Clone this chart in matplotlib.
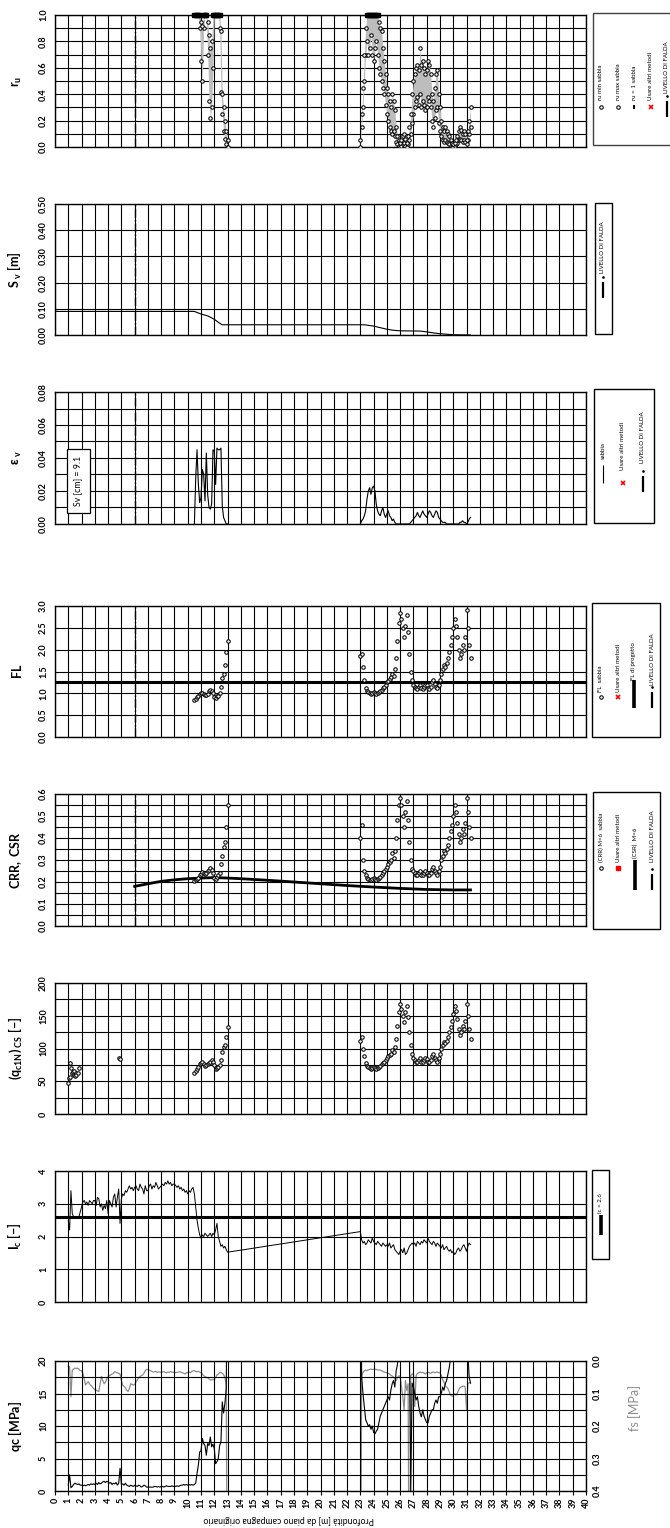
import numpy as np
import matplotlib
matplotlib.use("Agg")
import matplotlib.pyplot as plt
from matplotlib.patches import Rectangle
from matplotlib.ticker import MultipleLocator, FormatStrFormatter

plt.rcParams['font.family'] = ['Lato', 'DejaVu Sans']
plt.rcParams['mathtext.fontset'] = 'custom'
plt.rcParams['mathtext.rm'] = 'Lato'
plt.rcParams['mathtext.bf'] = 'Lato:bold'
plt.rcParams['mathtext.it'] = 'Lato:italic'
plt.rcParams['mathtext.fallback'] = 'stixsans'

# ----------------------------
# data (depth in m, step 0.1 m)
# ----------------------------
START_A = 10.5      # liquefaction analysis, first layer
START_B = 23.0      # second layer
START_CPT = 1.0     # CPT readings
STEP = 0.1

FL_A = [0.85, 0.88, 0.92, 0.95, 0.98, 1.00, 1.00, 0.98, 0.97, 0.96,
        0.98, 1.05, 1.07, 1.05, 1.00, 0.92, 0.90, 0.95, 0.93, 1.00,
        1.15, 1.35, 1.45, 1.65, 1.95, 2.20]
FL_B = [1.85, 1.90, 1.60, 1.30, 1.12, 1.05, 1.02, 1.00, 0.98, 1.00,
        1.02, 1.00, 0.98, 1.00, 1.03, 1.05, 1.08, 1.12, 1.15, 1.20,
        1.25, 1.28, 1.32, 1.38, 1.45, 1.40, 1.55, 1.80, 2.20, 2.60,
        2.85, 2.70, 2.50, 2.30, 2.55, 2.80, 2.40, 1.90, 1.50, 1.30,
        1.20, 1.15, 1.12, 1.10, 1.15, 1.20, 1.12, 1.10, 1.15, 1.20,
        1.18, 1.12, 1.10, 1.15, 1.25, 1.30, 1.22, 1.15, 1.12, 1.20,
        1.30, 1.45, 1.55, 1.65, 1.60, 1.70, 1.80, 1.95, 2.10, 2.30,
        2.50, 2.70, 2.55, 2.30, 2.00, 1.80, 1.90, 2.10, 2.00, 2.30,
        2.90, 2.50, 2.10, 1.80]
FL_DESIGN = 1.25

CRR_A = [0.205, 0.21, 0.215, 0.22, 0.23, 0.235, 0.245, 0.24, 0.235, 0.24,
         0.25, 0.255, 0.265, 0.255, 0.24, 0.22, 0.215, 0.225, 0.23, 0.24,
         0.28, 0.32, 0.36, 0.38, 0.45, 0.55]
CRR_B = [0.40, 0.46, 0.30, 0.25, 0.23, 0.22, 0.215, 0.21, 0.21, 0.215,
         0.22, 0.215, 0.21, 0.215, 0.22, 0.225, 0.23, 0.24, 0.25, 0.26,
         0.27, 0.28, 0.29, 0.30, 0.33, 0.31, 0.34, 0.40, 0.48, 0.55,
         0.58, 0.55, 0.50, 0.45, 0.52, 0.57, 0.48, 0.38, 0.30, 0.26,
         0.25, 0.24, 0.23, 0.23, 0.24, 0.25, 0.23, 0.23, 0.24, 0.25,
         0.24, 0.23, 0.23, 0.24, 0.26, 0.27, 0.25, 0.24, 0.23, 0.25,
         0.27, 0.30, 0.32, 0.34, 0.33, 0.35, 0.37, 0.40, 0.43, 0.46,
         0.50, 0.55, 0.52, 0.47, 0.42, 0.38, 0.40, 0.44, 0.42, 0.47,
         0.58, 0.52, 0.45, 0.40]
CSR_depth = [6, 7, 8, 9, 10, 11, 12, 13, 14, 16, 18, 20, 22, 24, 26, 28, 30, 31.3]
CSR_val = [0.180, 0.192, 0.203, 0.210, 0.215, 0.218, 0.220, 0.218, 0.215,
           0.208, 0.200, 0.192, 0.184, 0.177, 0.171, 0.166, 0.164, 0.164]

QC1N_A = [63, 65, 68, 72, 76, 78, 79, 76, 74, 75,
          76, 78, 80, 82, 79, 75, 68, 70, 72, 75,
          82, 95, 102, 105, 118, 133]
QC1N_B = [112, 118, 100, 88, 78, 74, 72, 70, 69, 70,
          71, 70, 69, 70, 72, 74, 76, 78, 80, 83,
          86, 88, 90, 92, 98, 95, 102, 115, 135, 155,
          168, 160, 150, 140, 155, 165, 148, 125, 105, 92,
          86, 83, 80, 80, 83, 86, 80, 79, 82, 86,
          84, 80, 79, 82, 88, 92, 86, 82, 80, 85,
          92, 100, 105, 110, 108, 112, 118, 125, 133, 142,
          152, 165, 158, 145, 130, 120, 125, 135, 130, 142,
          168, 150, 130, 115]
QC1N_top_depth = [1.0, 1.05, 1.1, 1.15, 1.2, 1.3, 1.35, 1.4, 1.45, 1.5, 1.55, 1.6, 1.7, 1.8, 4.85, 4.9]
QC1N_top_val = [47, 55, 57, 78, 70, 62, 64, 66, 60, 58, 62, 59, 63, 70, 86, 84]

RU_MAX_A = [1.0, 1.0, 1.0, 1.0, 1.0, 0.95, 0.92, 1.0, 1.0, 1.0,
            0.95, 0.85, 0.75, 0.80, 1.0, 1.0, 1.0, 1.0, 1.0, 1.0,
            0.88, 0.40, 0.30, 0.20, 0.12, 0.05]
RU_MIN_A = [1.0, 1.0, 1.0, 1.0, 0.90, 0.65, 0.50, 0.90, 1.0, 1.0,
            0.70, 0.35, 0.22, 0.30, 0.60, 1.0, 1.0, 1.0, 1.0, 0.90,
            0.42, 0.25, 0.12, 0.06, 0.02, 0.0]
RU_MAX_B = [0.05, 0.25, 0.45, 0.70, 0.90, 1.0, 1.0, 1.0, 1.0, 1.0,
            1.0, 1.0, 1.0, 1.0, 0.95, 0.90, 0.88, 0.75, 0.65, 0.55,
            0.45, 0.40, 0.35, 0.30, 0.40, 0.35, 0.28, 0.15, 0.08, 0.05,
            0.03, 0.05, 0.08, 0.10, 0.06, 0.03, 0.08, 0.15, 0.25, 0.40,
            0.50, 0.55, 0.60, 0.62, 0.58, 0.75, 0.62, 0.65, 0.60, 0.55,
            0.58, 0.65, 0.62, 0.55, 0.40, 0.35, 0.45, 0.55, 0.58, 0.40,
            0.30, 0.20, 0.15, 0.12, 0.15, 0.12, 0.10, 0.08, 0.05, 0.03,
            0.02, 0.03, 0.05, 0.08, 0.12, 0.15, 0.13, 0.10, 0.12, 0.10,
            0.05, 0.12, 0.20, 0.30]
RU_MIN_B = [0.0, 0.15, 0.30, 0.50, 0.70, 0.80, 0.70, 0.75, 0.85, 0.70,
            0.65, 0.75, 0.80, 0.70, 0.60, 0.55, 0.50, 0.45, 0.40, 0.32,
            0.25, 0.20, 0.15, 0.12, 0.10, 0.12, 0.08, 0.04, 0.02, 0.01,
            0.0, 0.01, 0.02, 0.03, 0.01, 0.0, 0.02, 0.05, 0.10, 0.18,
            0.25, 0.30, 0.35, 0.38, 0.32, 0.40, 0.30, 0.35, 0.32, 0.28,
            0.30, 0.38, 0.35, 0.30, 0.20, 0.15, 0.22, 0.28, 0.30, 0.18,
            0.12, 0.08, 0.05, 0.04, 0.05, 0.04, 0.03, 0.02, 0.01, 0.0,
            0.0, 0.01, 0.02, 0.03, 0.05, 0.06, 0.05, 0.04, 0.05, 0.04,
            0.02, 0.05, 0.10, 0.15]

EPS_A = [0.0, 0.028, 0.045, 0.024, 0.013, 0.016, 0.033, 0.030, 0.014, 0.043,
         0.018, 0.010, 0.009, 0.012, 0.045, 0.044, 0.024, 0.046, 0.045, 0.045,
         0.046, 0.011, 0.004, 0.002, 0.0, 0.0]
EPS_B = [0.0, 0.002, 0.003, 0.005, 0.008, 0.015, 0.020, 0.022, 0.018, 0.022,
         0.023, 0.020, 0.012, 0.008, 0.006, 0.005, 0.008, 0.010, 0.006, 0.004,
         0.006, 0.008, 0.005, 0.004, 0.002, 0.003, 0.001, 0.0, 0.0, 0.0,
         0.0, 0.0, 0.0, 0.0, 0.0, 0.0, 0.0, 0.0, 0.001, 0.002,
         0.003, 0.004, 0.005, 0.007, 0.005, 0.004, 0.006, 0.008, 0.006, 0.005,
         0.004, 0.006, 0.008, 0.007, 0.005, 0.004, 0.006, 0.008, 0.007, 0.004,
         0.003, 0.002, 0.001, 0.001, 0.001, 0.0, 0.0, 0.0, 0.0, 0.0,
         0.0, 0.0, 0.0, 0.0, 0.0, 0.001, 0.001, 0.002, 0.001, 0.001,
         0.0, 0.001, 0.003, 0.004]
SV_TOTAL_CM = 9.1

SV_depth = [0, 10.5, 11.0, 11.5, 12.0, 12.4, 12.6, 23.3, 24.0, 24.5, 25.0,
            25.5, 26.0, 27.5, 28.0, 28.5, 29.0, 29.5, 30.0, 31.3]
SV_val = [0.090, 0.090, 0.080, 0.073, 0.060, 0.045, 0.039, 0.039, 0.034, 0.028,
          0.022, 0.018, 0.016, 0.015, 0.012, 0.008, 0.005, 0.003, 0.001, 0.0]

IC_A = [2.50, 2.20, 3.40, 2.70, 2.60, 2.55, 2.60, 2.55, 2.60, 2.75,
        2.90, 3.05, 3.10, 3.00, 3.05, 2.95, 3.10, 3.05, 3.00, 3.10,
        3.10, 2.95, 3.20, 3.15, 2.90, 3.00, 2.80, 2.95, 2.85, 3.10,
        2.70, 3.10, 3.00, 2.90, 3.20, 3.30, 2.90, 3.20, 3.45, 2.40,
        3.15, 3.30, 3.25, 3.40, 3.35, 3.45, 3.55, 3.45, 3.50, 3.40,
        3.50, 3.55, 3.45, 3.40, 3.60, 3.50, 3.45, 3.30, 3.55, 3.40,
        3.40, 3.55, 3.60, 3.45, 3.55, 3.50, 3.65, 3.55, 3.45, 3.50,
        3.55, 3.60, 3.55, 3.65, 3.60, 3.70, 3.60, 3.65, 3.55, 3.60,
        3.60, 3.55, 3.50, 3.55, 3.45, 3.50, 3.40, 3.45, 3.35, 3.40,
        3.30, 3.40, 3.35, 3.45, 3.50, 3.30, 2.90, 2.50, 2.25, 2.05,
        1.95, 2.05, 2.00, 2.10, 2.05, 2.00, 2.05, 2.10, 2.00, 2.10,
        2.05, 2.20, 2.40, 2.00, 1.85, 1.70, 1.75, 1.65, 1.70, 1.60,
        1.52]
IC_B = [2.15, 1.90, 1.80, 1.85, 1.75, 1.80, 1.90, 1.85, 1.80, 1.95,
        1.85, 1.80, 1.75, 1.85, 1.80, 1.75, 1.70, 1.80, 1.75, 1.70,
        1.75, 1.70, 1.80, 1.65, 1.70, 1.75, 1.60, 1.55, 1.50, 1.45,
        1.55, 1.60, 1.50, 1.65, 1.45, 1.50, 1.60, 1.70, 1.75, 1.80,
        1.75, 1.80, 1.70, 1.85, 1.80, 1.75, 1.85, 1.80, 1.90, 1.85,
        1.80, 1.95, 1.85, 1.80, 1.75, 1.85, 1.80, 1.70, 1.80, 1.75,
        1.70, 1.65, 1.75, 1.60, 1.65, 1.70, 1.60, 1.55, 1.60, 1.50,
        1.55, 1.45, 1.50, 1.60, 1.65, 1.55, 1.60, 1.70, 1.75, 1.65,
        1.55, 1.70, 1.80, 1.75]
IC_LIMIT = 2.6

QC_A = [0.9, 2.5, 0.5, 0.7, 1.0, 1.2, 1.1, 1.0, 1.1, 0.9,
        0.9, 0.8, 0.9, 0.8, 0.9, 1.0, 0.9, 1.1, 1.0, 1.1,
        1.0, 1.2, 1.0, 1.3, 1.1, 1.2, 1.4, 1.5, 1.3, 1.5,
        1.4, 1.2, 1.3, 1.0, 1.2, 1.1, 1.3, 0.9, 1.2, 3.5,
        1.0, 1.1, 0.9, 1.2, 0.9, 0.8, 0.7, 0.9, 0.8, 0.7,
        0.9, 0.8, 0.7, 0.9, 0.8, 0.6, 0.7, 0.9, 0.8, 0.6,
        0.6, 0.6, 0.6, 0.6, 0.6, 0.7, 0.7, 0.6, 0.7, 0.6,
        0.7, 0.7, 0.6, 0.7, 0.8, 0.7, 0.7, 0.7, 0.8, 0.7,
        0.7, 0.7, 0.8, 0.7, 0.8, 0.9, 0.9, 1.0, 0.9, 1.0,
        0.9, 1.0, 0.9, 1.0, 0.9, 1.0, 1.2, 2.7, 4.0, 6.0,
        6.2, 8.1, 7.3, 7.0, 5.5, 7.3, 7.0, 8.3, 6.8, 7.2,
        6.5, 4.2, 4.5, 5.0, 7.0, 7.5, 13.7, 12.0, 13.5, 15.8,
        40.0]
FS_A = [0.017, 0.017, 0.110, 0.028, 0.025, 0.022, 0.023, 0.022, 0.025, 0.030,
        0.030, 0.038, 0.055, 0.074, 0.068, 0.064, 0.070, 0.075, 0.079, 0.085,
        0.088, 0.090, 0.092, 0.094, 0.070, 0.048, 0.060, 0.070, 0.065, 0.055,
        0.048, 0.045, 0.043, 0.040, 0.038, 0.033, 0.035, 0.036, 0.038, 0.040,
        0.060, 0.074, 0.078, 0.082, 0.090, 0.094, 0.085, 0.070, 0.072, 0.074,
        0.072, 0.065, 0.058, 0.052, 0.048, 0.045, 0.043, 0.038, 0.030, 0.026,
        0.026, 0.028, 0.030, 0.032, 0.034, 0.033, 0.032, 0.035, 0.033, 0.034,
        0.035, 0.034, 0.033, 0.035, 0.036, 0.034, 0.035, 0.033, 0.034, 0.035,
        0.034, 0.036, 0.035, 0.034, 0.033, 0.035, 0.036, 0.038, 0.040, 0.036,
        0.036, 0.034, 0.036, 0.032, 0.030, 0.030, 0.032, 0.033, 0.032, 0.034,
        0.036, 0.040, 0.045, 0.048, 0.050, 0.052, 0.055, 0.058, 0.058, 0.057,
        0.058, 0.050, 0.043, 0.040, 0.036, 0.035, 0.038, 0.042, 0.050, 0.074,
        1.0]
QC_B = [40.0, 17.5, 15.0, 13.0, 11.0, 10.5, 10.0, 10.2, 9.5, 10.0,
        9.0, 8.8, 9.2, 9.5, 10.5, 11.5, 12.0, 12.5, 13.0, 13.5,
        14.0, 14.5, 14.0, 15.5, 16.5, 17.0, 16.0, 18.5, 19.5, 22.0,
        25.0, 28.0, 24.0, 22.0, 26.0, 28.0, 24.0, 21.0, 0.0, 16.6,
        16.0, 15.0, 14.0, 14.5, 13.0, 12.0, 11.4, 12.5, 11.5, 11.0,
        10.5, 10.5, 11.5, 12.0, 12.5, 12.5, 13.5, 14.0, 13.5, 14.5,
        14.5, 15.0, 16.0, 15.5, 16.5, 17.0, 18.0, 19.0, 20.5, 22.0,
        30.0, 32.0, 30.0, 27.0, 24.0, 22.0, 23.0, 25.0, 22.0, 24.0,
        28.0, 21.0, 17.5, 16.6]
FS_B = [1.0, 0.046, 0.035, 0.030, 0.028, 0.030, 0.027, 0.026, 0.025, 0.026,
        0.026, 0.025, 0.026, 0.027, 0.028, 0.028, 0.030, 0.032, 0.034, 0.035,
        0.036, 0.038, 0.040, 0.044, 0.046, 0.050, 0.055, 0.060, 0.050, 0.046,
        0.046, 0.080, 0.110, 0.150, 0.060, 0.090, 0.070, 1.0, 0.045, 0.040,
        0.040, 0.140, 0.045, 0.038, 0.036, 0.034, 0.036, 0.035, 0.037, 0.040,
        0.036, 0.034, 0.036, 0.038, 0.035, 0.034, 0.036, 0.035, 0.034, 0.036,
        0.035, 0.045, 0.057, 0.065, 0.075, 0.080, 0.085, 0.095, 0.105, 0.108,
        0.108, 0.100, 0.105, 0.100, 0.090, 0.082, 0.080, 0.078, 0.077, 0.080,
        0.150, 0.070, 0.067, 0.067]

WATER_TABLE = 6.0


def depths(start, values):
    return np.round(start + STEP * np.arange(len(values)), 2)


# ----------------------------
# figure layout (pixels of a 670 x 1528 canvas)
# ----------------------------
W, H = 670, 1528
fig = plt.figure(figsize=(W / 100, H / 100), dpi=100)
X0, X1 = 55, 586
rows = [(15, 147), (204, 335), (392, 524), (606, 737),
        (794, 926), (983, 1114), (1171, 1302), (1361, 1491)]


def panel(top, bot):
    return fig.add_axes([X0 / W, 1 - bot / H, (X1 - X0) / W, (bot - top) / H])


axes = [panel(t, b) for t, b in rows]

specs = [  # ylim, label step, grid step, fmt, label
    ((0, 1.0), 0.2, 0.1, '%.1f', r'$\mathbf{r_u}$'),
    ((0, 0.5), 0.1, 0.1, '%.2f', r'$\mathbf{S_{\ v}\ [m]}$'),
    ((0, 0.08), 0.02, 0.01, '%.2f', r'$\mathbf{\varepsilon_{\ v}}$'),
    ((0, 3.0), 0.5, 0.5, '%.1f', r'$\mathbf{FL}$'),
    ((0, 0.6), 0.1, 0.05, '%.1f', r'$\mathbf{CRR,\ CSR}$'),
    ((0, 200), 50, 25, '%d', r'$\mathbf{(q_{c1N})_{\ CS}\ [-]}$'),
    ((0, 4), 1, 1, '%d', r'$\mathbf{I_c\ [-]}$'),
    ((0, 20), 5, 2.5, '%d', r'$\mathbf{qc\ [MPa]}$'),
]

TICK_FS = 6.5

for ax, (ylim, step, gstep, fmt, lab) in zip(axes, specs):
    ax.set_xlim(0, 40)
    ax.set_ylim(*ylim)
    ax.xaxis.set_major_locator(MultipleLocator(1))
    ax.yaxis.set_major_locator(MultipleLocator(step))
    ax.yaxis.set_minor_locator(MultipleLocator(gstep))
    ax.yaxis.set_major_formatter(FormatStrFormatter(fmt))
    ax.grid(True, which='both', color='black', lw=0.8)
    ax.set_axisbelow(True)
    ax.tick_params(axis='y', which='both', length=0, pad=5, labelsize=TICK_FS)
    ax.tick_params(axis='x', length=0, labelbottom=False)
    for sp in ax.spines.values():
        sp.set_color('black')
        sp.set_linewidth(1.0)
    ax.set_ylabel(lab, fontsize=9, rotation=90)
    ax.yaxis.set_label_coords(-0.058, 0.5)

for ax in axes[:5]:
    ax.axvline(WATER_TABLE, color='black', lw=1.0, ls='-.', zorder=3)

dot = dict(ls='none', marker='o', ms=2.5, mfc='white', mec='black', mew=0.75, zorder=4)

# r_u
ax = axes[0]
for start, rmin, rmax in [(START_A, RU_MIN_A, RU_MAX_A), (START_B, RU_MIN_B, RU_MAX_B)]:
    d = depths(start, rmin)
    ax.fill_between(d, rmin, rmax, color='#bdbdbd', lw=0, zorder=2)
    ax.plot(d, rmin, **dot)
    ax.plot(d, rmax, **dot)
    rmax = np.array(rmax)
    ax.plot(d[rmax >= 1.0], rmax[rmax >= 1.0], ls='none', marker='s', ms=3.2,
            color='black', zorder=5, clip_on=False)

# S_v
axes[1].plot(SV_depth, SV_val, color='black', lw=0.8, zorder=4)

# eps_v
ax = axes[2]
ax.plot(depths(START_A, EPS_A), EPS_A, color='black', lw=0.8, zorder=4)
ax.plot(depths(START_B, EPS_B), EPS_B, color='black', lw=0.8, zorder=4)

# FL
ax = axes[3]
ax.axhline(FL_DESIGN, color='black', lw=2.2, zorder=3)
ax.plot(depths(START_A, FL_A), FL_A, **dot)
ax.plot(depths(START_B, FL_B), FL_B, **dot)

# CRR / CSR
ax = axes[4]
ax.plot(CSR_depth, CSR_val, color='black', lw=2.0, zorder=3)
ax.plot(depths(START_A, CRR_A), CRR_A, **dot)
ax.plot(depths(START_B, CRR_B), CRR_B, **dot)

# (qc1N)cs
ax = axes[5]
ax.plot(QC1N_top_depth, QC1N_top_val, **dot)
ax.plot(depths(START_A, QC1N_A), QC1N_A, **dot)
ax.plot(depths(START_B, QC1N_B), QC1N_B, **dot)

# Ic
ax = axes[6]
ax.axhline(IC_LIMIT, color='black', lw=2.2, zorder=3)
ic_d = np.concatenate([depths(START_CPT, IC_A), depths(START_B, IC_B)])
ax.plot(ic_d, IC_A + IC_B, color='black', lw=0.7, zorder=4)

# qc / fs
ax = axes[7]
ax2 = ax.twinx()
ax2.set_position(ax.get_position())
ax2.set_ylim(0.4, 0.0)
ax2.yaxis.set_major_locator(MultipleLocator(0.1))
ax2.yaxis.set_major_formatter(FormatStrFormatter('%.1f'))
ax2.tick_params(axis='y', length=0, pad=5, labelsize=TICK_FS)
ax2.set_ylabel('fs [MPa]', fontsize=9, color='#8c8c8c', rotation=90)
ax2.yaxis.set_label_coords(1.08, 0.64)
for sp in ax2.spines.values():
    sp.set_visible(False)
ax2.plot(depths(START_CPT, FS_A), FS_A, color='#8c8c8c', lw=0.9, zorder=3)
ax2.plot(depths(START_B, FS_B), FS_B, color='#8c8c8c', lw=0.9, zorder=3)
ax.set_zorder(ax2.get_zorder() + 1)
ax.patch.set_visible(False)
ax.plot(depths(START_CPT, QC_A), QC_A, color='black', lw=0.8, zorder=4)
ax.plot(depths(START_B, QC_B), QC_B, color='black', lw=0.8, zorder=4)

ax.tick_params(axis='x', length=3, direction='out', labelbottom=True,
               labelsize=TICK_FS, pad=2)
ax.set_xlabel('Profondità [m] da piano campagna originario', fontsize=6.3,
              rotation=180)
ax.xaxis.set_label_coords(0.44, -0.185)

# rotate every tick label (the chart is printed sideways)
for a in axes:
    plt.setp(a.get_yticklabels(), rotation=90, va='center', ha='right',
             fontweight='bold')
plt.setp(ax2.get_yticklabels(), rotation=90, va='center', ha='left',
         fontweight='bold')
plt.setp(axes[7].get_xticklabels(), rotation=90, ha='center', va='top',
         fontweight='bold')

# ----------------------------
# legends drawn in pixel coordinates
# ----------------------------
ov = fig.add_axes([0, 0, 1, 1], zorder=20)
ov.set_xlim(0, W)
ov.set_ylim(H, 0)
ov.axis('off')
ov.patch.set_visible(False)

LFS = 4.4


def box(x0, y0, x1, y1, ec='black'):
    ov.add_patch(Rectangle((x0, y0), x1 - x0, y1 - y0, fill=False, ec=ec, lw=1.0,
                           clip_on=False))


def label(x, y, s):
    ov.text(x, y, s, rotation=90, ha='center', va='bottom', fontsize=LFS)


def vline(x, y0, y1, lw):
    ov.plot([x, x], [y0, y1], color='black', lw=lw, solid_capstyle='butt')


def wt_entry(x, ybot, ytext):
    vline(x, ybot - 16, ybot, 1.6)
    ov.plot([x], [ybot - 21], marker='o', ms=0.9, color='black')
    label(x, ytext, 'LIVELLO DI FALDA')


# r_u legend
box(593, 13, 672, 145, ec='#404040')
ov.plot([601], [107], **dot)
label(601, 100, 'ru min sabbia')
ov.plot([618], [107], **dot)
label(618, 100, 'ru max sabbia')
ov.plot([634], [107], marker='|', ms=3, mew=1.4, color='black')
label(634, 100, 'ru = 1 sabbia')
ov.plot([651], [107], marker='x', ms=2.5, mew=1.2, color='red')
label(651, 100, 'Usare altri metodi')
wt_entry(667, 117, 93)

# S_v legend
box(595, 203, 612, 334)
wt_entry(603, 298, 273)

# eps legend
box(594, 389, 654, 523)
vline(603, 465, 483, 0.8)
label(603, 459, 'sabbia')
ov.plot([623], [483], marker='x', ms=2.5, mew=1.2, color='red')
label(623, 470, 'Usare altri metodi')
wt_entry(643, 492, 463)

# FL legend
box(592, 603, 660, 737)
ov.plot([601], [697], **dot)
label(601, 692, 'FL  sabbia')
ov.plot([618], [697], marker='x', ms=2.5, mew=1.2, color='red')
label(618, 692, 'Usare altri metodi')
vline(634, 680, 708, 2.6)
label(634, 680, 'FL di progetto')
wt_entry(652, 708, 685)

# CRR legend
box(593, 792, 660, 929)
ov.plot([601], [868], **dot)
label(601, 862, '(CRR) M=6  sabbia')
ov.plot([618], [868], marker='s', ms=2.5, color='red')
label(618, 862, 'Usare altri metodi')
vline(635, 860, 890, 2.6)
label(635, 858, '(CSR)  M=6')
wt_entry(652, 890, 862)

# Ic legend
box(592, 1170, 609, 1259)
vline(601, 1215, 1235, 2.6)
label(601, 1213, 'Ic = 2.6')

# settlement note
ov.text(78, 481, 'Sv [cm] = %.1f' % SV_TOTAL_CM, rotation=90, ha='center',
        va='center', fontsize=6.3,
        bbox=dict(boxstyle='square,pad=0.8', fc='white', ec='black', lw=0.9))

fig.savefig('out.png', dpi=100)
